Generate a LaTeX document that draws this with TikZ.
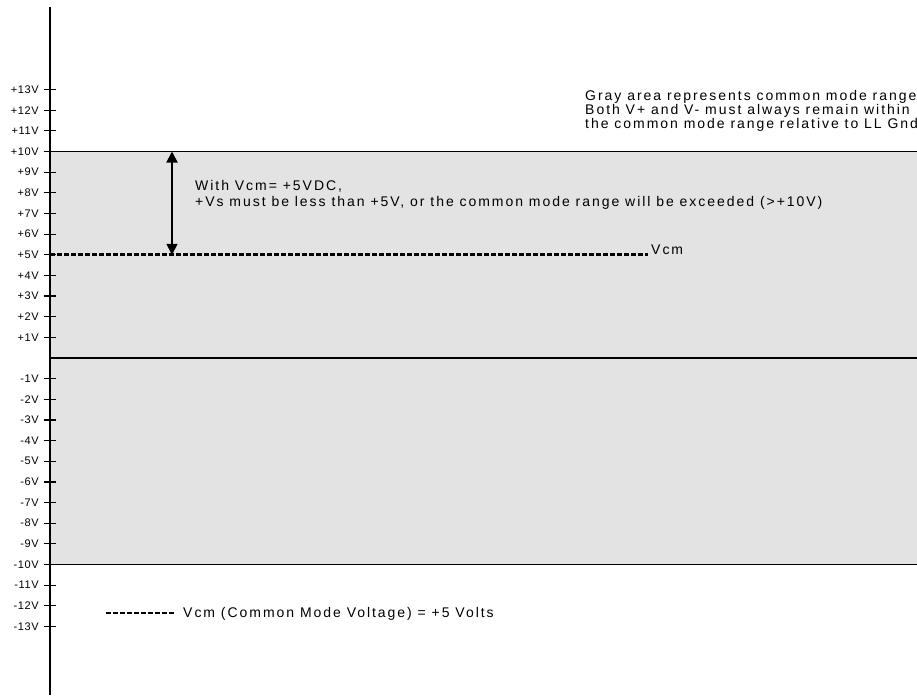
\documentclass[tikz,border=0pt]{standalone}
\usepackage{fontspec}
\setmainfont{Liberation Sans}
\newfontfamily\spacedfont[LetterSpace=14]{Liberation Sans}
\newfontfamily\tickfont[LetterSpace=6]{Liberation Sans}
\usepackage{xcolor}
\usetikzlibrary{arrows.meta}
\definecolor{cmgray}{RGB}{227,227,227}

\begin{document}
\begin{tikzpicture}[x=1pt,y=20.65pt,>={Triangle[length=11pt,width=11pt]},
		ticklabel/.style={anchor=east,inner sep=0pt,font=\tickfont\fontsize{11}{11}\selectfont},
		note/.style={inner sep=0pt,align=left,font=\spacedfont\fontsize{14}{14}\selectfont},
		vcmline/.style={line width=2.6pt,dash pattern=on 4.5pt off 2.5pt}]
		
		\useasboundingbox (-50,-16.465) rectangle (867,17.337);
		
		% Common mode range (gray)
		\fill[cmgray] (0,-10) rectangle (867,10);
		\draw[line width=1.2pt] (0,10) -- (867,10);
		\draw[line width=1.2pt] (0,-10) -- (867,-10);
		\draw[line width=2.2pt] (0,0) -- (867,0);
		
		% Voltage axis with ticks
		\draw[line width=2.4pt] (0,-16.32) -- (0,17);
		\foreach \v in {1,...,13} {
			\draw[line width=1.2pt] (-6,\v) -- (6,\v);
			\node[ticklabel] (tp\v) at (-11,\v) {+\v V};
		}
		\foreach \v in {-13,...,-1} {
			\draw[line width=1.2pt] (-6,\v) -- (6,\v);
			\node[ticklabel] (tn\v) at (-11,\v) {\v V};
		}
		
		% Vcm level
		\coordinate (vcmA) at (0,5);
		\coordinate (vcmB) at (598,5);
		\draw[vcmline] (vcmA) -- (vcmB);
		\node[note,anchor=base west] (vcmlabel) at ([xshift=3pt]vcmB) {Vcm};
		
		% Headroom up to +10V (base = last line)
		\coordinate (arrtop) at (122,10);
		\coordinate (arrbot) at (122,5);
		\draw[<->,line width=1.8pt] (arrtop) -- (arrbot);
		\node[note,anchor=base west,font=\spacedfont\fontsize{14}{15.5}\selectfont] (headnote) at (145,7.361)
			{With Vcm= +5VDC,\\+Vs must be less than +5V, or the common mode range will be exceeded (>+10V)};
		
		% Explanation (top right)
		\node[note,anchor=base west] (rangenote) at (535,11.114)
			{Gray area represents common mode range\\Both V+ and V- must always remain within\\the common mode range relative to LL Gnd};
		
		% Legend
		\coordinate (legA) at (56,-12.349);
		\coordinate (legB) at (126,-12.349);
		\draw[vcmline] (legA) -- (legB);
		\node[note,anchor=base west] (legtext) at (133,-12.59) {Vcm (Common Mode Voltage) = +5 Volts};
		
	\end{tikzpicture}
\end{document}
